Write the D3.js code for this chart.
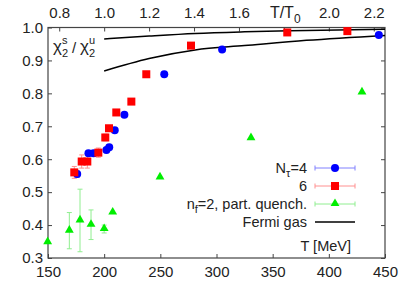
<!DOCTYPE html>
<html>
  <head>
    <meta http-equiv="Content-Type" content="text/html;charset=utf-8" />
    <title>Susceptibility ratio</title>
    <style>
      body {
        margin: 0;
        background: #fff;
        font-family: "Liberation Sans", Arial, sans-serif;
      }
      .tick text {
        font-size: 15px;
        fill: #222;
      }
      .tick line {
        stroke: #444;
      }
      .frame {
        fill: none;
        stroke: #444;
        stroke-width: 1.2px;
      }
      path.fermi {
        fill: none;
        stroke: #000;
        stroke-width: 1.5px;
      }
    </style>
    <script src="https://d3js.org/d3.v7.min.js"></script>
  </head>
  <body>
    <div id="chart"></div>
    <script type="text/javascript">
      const width = 409,
        height = 286;
      const margin = { top: 27.5, right: 24, bottom: 28, left: 48 };

      // N_tau = 4 (blue circles)
      const tempNt4 = [176, 186, 190.5, 202, 204.5, 209.4, 218, 253.5, 305, 444.5];
      const ratioNt4 = [0.555, 0.618, 0.618, 0.628, 0.636, 0.688, 0.735, 0.858, 0.933, 0.977];
      const errNt4 = [0.01, 0.008, 0.008, 0.008, 0.008, 0.006, 0.006, 0.005, 0.004, 0.003];

      // N_tau = 6 (red squares)
      const tempNt6 = [173.4, 180, 185, 194.8, 201, 204.3, 210.8, 224.2, 237.5, 277.3, 363, 416.5];
      const ratioNt6 = [0.56, 0.593, 0.593, 0.62, 0.666, 0.694, 0.742, 0.775, 0.858, 0.945, 0.985, 0.989];
      const errNt6 = [0.018, 0.02, 0.02, 0.014, 0.01, 0.008, 0.008, 0.006, 0.006, 0.004, 0.003, 0.003];

      // n_f = 2, partially quenched (green triangles)
      const tempNf2 = [149.7, 169, 178.5, 188.3, 200, 207.6, 249.7, 330.7, 429.5];
      const ratioNf2 = [0.348, 0.383, 0.414, 0.401, 0.388, 0.438, 0.545, 0.664, 0.803];
      const errNf2 = [0, 0.055, 0.095, 0.045, 0.012, 0, 0, 0, 0];

      // Fermi gas curves
      const tempFermi = [200, 240, 281, 325, 380, 450];
      const ratioFermiUpper = [0.965, 0.974, 0.982, 0.987, 0.991, 0.995];
      const ratioFermiLower = [0.868, 0.906, 0.932, 0.945, 0.961, 0.976];

      const xTicks = [150, 200, 250, 300, 350, 400, 450];
      const yTicks = [0.3, 0.4, 0.5, 0.6, 0.7, 0.8, 0.9, 1.0];
      const topTicks = [0.8, 1.0, 1.2, 1.4, 1.6, 1.8, 2.0, 2.2];
      const T0 = 200;

      const legendLabels = ["N\u03c4=4", "6", "nf=2, part. quench.", "Fermi gas"];

      const x = d3.scaleLinear().domain([150, 450]).range([margin.left, width - margin.right]);
      const xTop = d3.scaleLinear().domain([150 / T0, 450 / T0]).range([margin.left, width - margin.right]);
      const y = d3.scaleLinear().domain([0.3, 1.0]).range([height - margin.bottom, margin.top]);

      const svg = d3
        .select("#chart")
        .append("svg")
        .attr("width", width)
        .attr("height", height);

      //- axes, ticks pointing inwards
      svg
        .append("g")
        .attr("transform", "translate(0," + y.range()[0] + ")")
        .call(d3.axisBottom(x).tickValues(xTicks).tickSize(-4).tickPadding(8).tickFormat(d3.format("d")))
        .call((g) => g.select(".domain").remove());

      svg
        .append("g")
        .attr("transform", "translate(0," + y.range()[1] + ")")
        .call(
          d3
            .axisTop(xTop)
            .tickValues(topTicks)
            .tickSize(-4)
            .tickPadding(10)
            .tickFormat((d) => (Math.abs(d - 1.8) < 1e-6 ? "" : d3.format(".1f")(d)))
        )
        .call((g) => g.select(".domain").remove());

      svg
        .append("g")
        .attr("transform", "translate(" + x.range()[0] + ",0)")
        .call(d3.axisLeft(y).tickValues(yTicks).tickSize(-4).tickPadding(5).tickFormat(d3.format(".1f")))
        .call((g) => g.select(".domain").remove());

      svg
        .append("g")
        .attr("transform", "translate(" + x.range()[1] + ",0)")
        .call(d3.axisRight(y).tickValues(yTicks).tickSize(-4).tickFormat(""))
        .call((g) => g.select(".domain").remove());

      svg
        .append("rect")
        .attr("class", "frame")
        .attr("x", x.range()[0])
        .attr("y", y.range()[1])
        .attr("width", x.range()[1] - x.range()[0])
        .attr("height", y.range()[0] - y.range()[1]);

      //- Fermi gas lines
      const line = d3
        .line()
        .x((d) => x(d[0]))
        .y((d) => y(d[1]))
        .curve(d3.curveMonotoneX);

      [ratioFermiUpper, ratioFermiLower].forEach(function (r) {
        svg
          .append("path")
          .attr("class", "fermi")
          .datum(d3.zip(tempFermi, r))
          .attr("d", line);
      });

      //- error bars
      function errorBars(temps, vals, errs, color) {
        const data = d3.zip(temps, vals, errs).filter((d) => d[2] > 0);
        const g = svg.append("g").style("stroke", color).style("stroke-width", 1);
        g.selectAll("line.bar")
          .data(data)
          .enter()
          .append("line")
          .attr("x1", (d) => x(d[0]))
          .attr("x2", (d) => x(d[0]))
          .attr("y1", (d) => y(d[1] - d[2]))
          .attr("y2", (d) => y(d[1] + d[2]));
        [-1, 1].forEach(function (s) {
          g.selectAll("line.cap" + s)
            .data(data)
            .enter()
            .append("line")
            .attr("x1", (d) => x(d[0]) - 2.5)
            .attr("x2", (d) => x(d[0]) + 2.5)
            .attr("y1", (d) => y(d[1] + s * d[2]))
            .attr("y2", (d) => y(d[1] + s * d[2]));
        });
      }

      errorBars(tempNf2, ratioNf2, errNf2, "#90ee90");
      errorBars(tempNt6, ratioNt6, errNt6, "#ff9090");
      errorBars(tempNt4, ratioNt4, errNt4, "#8080ff");

      const tri = d3.symbol().type(d3.symbolTriangle).size(34);

      svg
        .selectAll("path.tri")
        .data(d3.zip(tempNf2, ratioNf2))
        .enter()
        .append("path")
        .attr("d", tri)
        .attr("transform", (d) => "translate(" + x(d[0]) + "," + (y(d[1]) - 0.5) + ")")
        .style("fill", "#00ee00");

      svg
        .selectAll("circle.nt4")
        .data(d3.zip(tempNt4, ratioNt4))
        .enter()
        .append("circle")
        .attr("cx", (d) => x(d[0]))
        .attr("cy", (d) => y(d[1]))
        .attr("r", 4)
        .style("fill", "#0000ff");

      svg
        .selectAll("rect.nt6")
        .data(d3.zip(tempNt6, ratioNt6))
        .enter()
        .append("rect")
        .attr("x", (d) => x(d[0]) - 4)
        .attr("y", (d) => y(d[1]) - 4)
        .attr("width", 8)
        .attr("height", 8)
        .style("fill", "#ff0000");

      //- legend
      const legY = [168, 186, 204, 222];
      const legColors = ["#0000ff", "#ff0000", "#00ee00", "#000"];
      const legBars = ["#8080ff", "#ff9090", "#90ee90", "#000"];
      const lx0 = 315,
        lx1 = 355;

      legendLabels.forEach(function (label, i) {
        const t = svg
          .append("text")
          .attr("x", 307)
          .attr("y", legY[i] + 5)
          .attr("text-anchor", "end")
          .style("font-size", "14.5px")
          .style("fill", "#222");
        if (i === 0) {
          t.append("tspan").text("N");
          t.append("tspan").attr("dy", 4).style("font-size", "11px").text("\u03c4");
          t.append("tspan").attr("dy", -4).text("=4");
        } else if (i === 2) {
          t.append("tspan").text("n");
          t.append("tspan").attr("dy", 4).style("font-size", "11px").text("f");
          t.append("tspan").attr("dy", -4).text("=2, part. quench.");
        } else {
          t.text(label);
        }

        const g = svg.append("g");
        g.append("line")
          .attr("x1", lx0)
          .attr("x2", lx1)
          .attr("y1", legY[i])
          .attr("y2", legY[i])
          .style("stroke", legBars[i])
          .style("stroke-width", i === 3 ? 1.5 : 1);
        if (i < 3) {
          [lx0, lx1].forEach(function (cx) {
            g.append("line")
              .attr("x1", cx)
              .attr("x2", cx)
              .attr("y1", legY[i] - 2.5)
              .attr("y2", legY[i] + 2.5)
              .style("stroke", legBars[i]);
          });
          const mx = (lx0 + lx1) / 2;
          if (i === 0) g.append("circle").attr("cx", mx).attr("cy", legY[i]).attr("r", 4).style("fill", legColors[i]);
          if (i === 1)
            g.append("rect").attr("x", mx - 4).attr("y", legY[i] - 4).attr("width", 8).attr("height", 8).style("fill", legColors[i]);
          if (i === 2)
            g.append("path").attr("d", tri).attr("transform", "translate(" + mx + "," + (legY[i] - 0.5) + ")").style("fill", legColors[i]);
        }
      });

      //- axis titles
      svg
        .append("text")
        .attr("x", 351)
        .attr("y", 251)
        .attr("text-anchor", "end")
        .style("font-size", "14.5px")
        .style("fill", "#222")
        .text("T [MeV]");

      const tt = svg
        .append("text")
        .attr("x", xTop(1.8) - 14)
        .attr("y", 18)
        .style("font-size", "16px")
        .style("fill", "#222");
      tt.append("tspan").text("T/T");
      tt.append("tspan").attr("dy", 5).style("font-size", "12px").text("0");

      // chi_2^s / chi_2^u
      function chi(x0, sup) {
        svg.append("text").attr("x", x0).attr("y", 52).style("font-size", "17px").style("fill", "#222").text("\u03c7");
        svg.append("text").attr("x", x0 + 9).attr("y", 57).style("font-size", "11px").style("fill", "#222").text("2");
        svg.append("text").attr("x", x0 + 9).attr("y", 44).style("font-size", "11px").style("fill", "#222").text(sup);
      }
      chi(53, "s");
      svg.append("text").attr("x", 72).attr("y", 53).style("font-size", "15px").style("fill", "#222").text("/");
      chi(80, "u");
    </script>
  </body>
</html>
